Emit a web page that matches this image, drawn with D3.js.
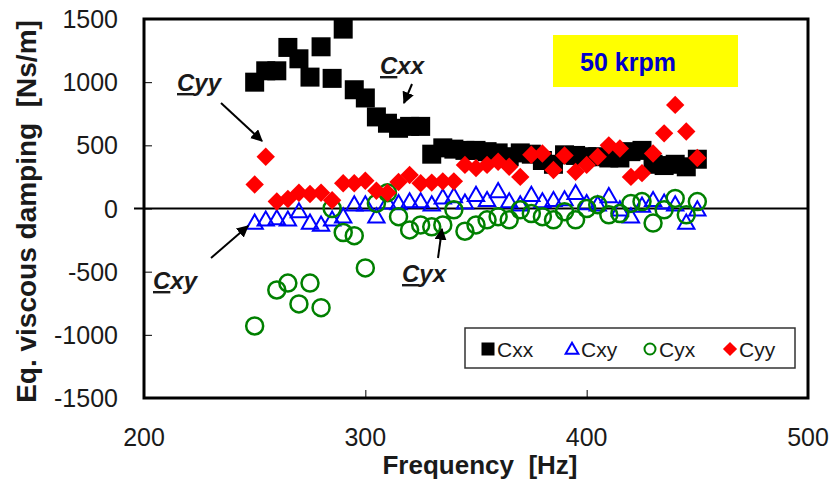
<!DOCTYPE html>
<html>
<head>
<meta charset="UTF-8">
<title>Eq. viscous damping</title>
<script src="https://d3js.org/d3.v7.min.js"></script>
<style>
  body { margin: 0; background: #fff; }
  text { font-family: "Liberation Sans", Arial, sans-serif; }
</style>
</head>
<body>
<script>
// frequency [Hz]
var freq = [250,255,260,265,270,275,280,285,290,295,300,305,310,315,320,325,330,335,340,345,350,
            355,360,365,370,375,380,385,390,395,400,405,410,415,420,425,430,435,440,445,450];

var cxx = [1000,1090,1090,1275,1185,1040,1280,1030,1420,940,875,725,675,635,650,650,430,480,470,460,460,
           450,440,410,440,430,380,350,425,420,410,410,400,400,450,460,350,340,350,330,390];
var cxy = [-115,-90,-80,-90,-25,-115,-130,-90,-65,30,30,-65,45,40,55,55,30,85,95,45,105,
           65,135,55,30,105,55,65,70,120,40,30,95,-10,-65,20,65,45,30,-115,-10];
var cyx = [-930,null,-645,-590,-755,-590,-785,0,-190,-215,-470,40,125,-65,-170,-130,-145,-130,-10,-180,-130,
           -90,-65,-90,-10,-40,-65,-90,-25,-90,0,30,-50,-40,40,55,-115,-10,80,-50,55];
var cyy = [190,410,55,75,125,115,125,65,200,200,220,140,125,210,265,200,205,215,215,345,320,
           345,370,330,250,425,435,305,420,290,345,410,500,475,250,280,435,595,820,610,400];

var xTicks = [200,300,400,500];
var yTicks = [-1500,-1000,-500,0,500,1000,1500];
var seriesNames = ["Cxx","Cxy","Cyx","Cyy"];

var W = 835, H = 483;
var L = 144, R = 808, T = 19, B = 398;

var svg = d3.select("body").append("svg")
  .attr("width", W).attr("height", H);

var x = d3.scaleLinear().domain([200,500]).range([L,R]);
var y = d3.scaleLinear().domain([-1500,1500]).range([B,T]);

// arrow head
svg.append("defs").append("marker")
  .attr("id","arr").attr("viewBox","0 0 10 10").attr("refX",9).attr("refY",5)
  .attr("markerWidth",6).attr("markerHeight",6).attr("orient","auto")
  .append("path").attr("d","M0,0 L10,5 L0,10 z").attr("fill","#000");

// zero line
svg.append("line")
  .attr("x1", L - 10).attr("x2", R)
  .attr("y1", y(0)).attr("y2", y(0))
  .attr("stroke","#000").attr("stroke-width",2);

// y axis (ticks inside)
var yAxis = d3.axisRight(y).tickValues(yTicks).tickSize(8).tickFormat("");
svg.append("g").attr("transform","translate(" + L + ",0)").call(yAxis)
  .call(function(g){ g.select(".domain").remove(); g.selectAll("line").attr("stroke","#000"); });

svg.append("g").selectAll("text").data(yTicks).join("text")
  .attr("x", 118).attr("y", function(d){ return y(d); })
  .attr("dy","0.36em").attr("text-anchor","end")
  .attr("font-size",25).attr("fill","#1a1a1a")
  .text(function(d){ return d; });

// x axis (ticks inside)
var xAxis = d3.axisTop(x).tickValues(xTicks).tickSize(8).tickFormat("");
svg.append("g").attr("transform","translate(0," + B + ")").call(xAxis)
  .call(function(g){ g.select(".domain").remove(); g.selectAll("line").attr("stroke","#000"); });

svg.append("g").selectAll("text").data(xTicks).join("text")
  .attr("x", function(d){ return x(d); }).attr("y", 446)
  .attr("text-anchor","middle")
  .attr("font-size",25).attr("fill","#1a1a1a")
  .text(function(d){ return d; });

// frame
svg.append("rect")
  .attr("x", L).attr("y", T).attr("width", R - L).attr("height", B - T)
  .attr("fill","none").attr("stroke","#000").attr("stroke-width",3);

// axis titles
svg.append("text")
  .attr("transform","translate(36," + ((T + B) / 2 + 3) + ") rotate(-90)")
  .attr("text-anchor","middle").attr("font-size",28).attr("font-weight","bold")
  .attr("fill","#1a1a1a")
  .text("Eq. viscous damping\u00a0\u00a0[Ns/m]");

svg.append("text")
  .attr("x", (L + R) / 2 + 4).attr("y", 474)
  .attr("text-anchor","middle").attr("font-size",26).attr("font-weight","bold")
  .attr("fill","#1a1a1a")
  .text("Frequency\u00a0\u00a0[Hz]");

// markers
function pts(vals){
  return freq.map(function(f,i){ return {f:f, v:vals[i]}; })
    .filter(function(d){ return d.v !== null; });
}

svg.append("g").selectAll("rect").data(pts(cxx)).join("rect")
  .attr("x", function(d){ return x(d.f) - 9.5; })
  .attr("y", function(d){ return y(d.v) - 9.5; })
  .attr("width",19).attr("height",19).attr("fill","#000");

var tri = d3.symbol().type(d3.symbolTriangle).size(115);
svg.append("g").selectAll("path").data(pts(cxy)).join("path")
  .attr("d", tri)
  .attr("transform", function(d){ return "translate(" + x(d.f) + "," + (y(d.v) + 1) + ")"; })
  .attr("fill","none").attr("stroke","#0000ff").attr("stroke-width",2);

svg.append("g").selectAll("circle").data(pts(cyx)).join("circle")
  .attr("cx", function(d){ return x(d.f); })
  .attr("cy", function(d){ return y(d.v); })
  .attr("r",8.5).attr("fill","none").attr("stroke","#008000").attr("stroke-width",2.5);

svg.append("g").selectAll("rect").data(pts(cyy)).join("rect")
  .attr("x",-6.5).attr("y",-6.5).attr("width",13).attr("height",13)
  .attr("transform", function(d){ return "translate(" + x(d.f) + "," + y(d.v) + ") rotate(45)"; })
  .attr("fill","#ff0000");

// 50 krpm label
svg.append("rect").attr("x",553).attr("y",35).attr("width",185).attr("height",52)
  .attr("fill","#ffff00");
svg.append("text").attr("x",628).attr("y",71)
  .attr("text-anchor","middle").attr("font-size",25).attr("font-weight","bold")
  .attr("fill","#0000cc").text("50 krpm");

// legend
var lg = svg.append("g");
lg.append("rect").attr("x",465).attr("y",328).attr("width",330).attr("height",40)
  .attr("fill","#fff").attr("stroke","#333").attr("stroke-width",1.5);
var lgX = [488, 572, 650, 730];
var ly = 349;
lg.append("rect").attr("x",lgX[0]-6.5).attr("y",ly-6.5).attr("width",13).attr("height",13).attr("fill","#000");
lg.append("path").attr("d", d3.symbol().type(d3.symbolTriangle).size(70))
  .attr("transform","translate(" + lgX[1] + "," + (ly + 1) + ")")
  .attr("fill","none").attr("stroke","#0000ff").attr("stroke-width",2);
lg.append("circle").attr("cx",lgX[2]).attr("cy",ly).attr("r",5.5)
  .attr("fill","none").attr("stroke","#008000").attr("stroke-width",2);
lg.append("rect").attr("x",-5).attr("y",-5).attr("width",10).attr("height",10)
  .attr("transform","translate(" + lgX[3] + "," + ly + ") rotate(45)").attr("fill","#ff0000");
lg.selectAll("text.lab").data(seriesNames).join("text").attr("class","lab")
  .attr("x", function(d,i){ return lgX[i] + 9; }).attr("y", ly + 8)
  .attr("font-size",21).attr("fill","#1a1a1a").text(function(d){ return d; });

// annotations
function note(tx, ty, name, a){
  var t = svg.append("text").attr("x",tx).attr("y",ty)
    .attr("font-size",24).attr("font-weight","bold").attr("font-style","italic").attr("fill","#1a1a1a");
  t.append("tspan").attr("text-decoration","underline").text(name[0]);
  t.append("tspan").text(name.slice(1));
  svg.append("line").attr("x1",a[0]).attr("y1",a[1]).attr("x2",a[2]).attr("y2",a[3])
    .attr("stroke","#000").attr("stroke-width",2).attr("marker-end","url(#arr)");
}
note(177, 91, "Cyy", [221,103,262,141]);
note(380, 74, "Cxx", [412,84,404,103]);
note(153, 289, "Cxy", [211,258,248,226]);
note(402, 282, "Cyx", [438,258,442,229]);
</script>
</body>
</html>
